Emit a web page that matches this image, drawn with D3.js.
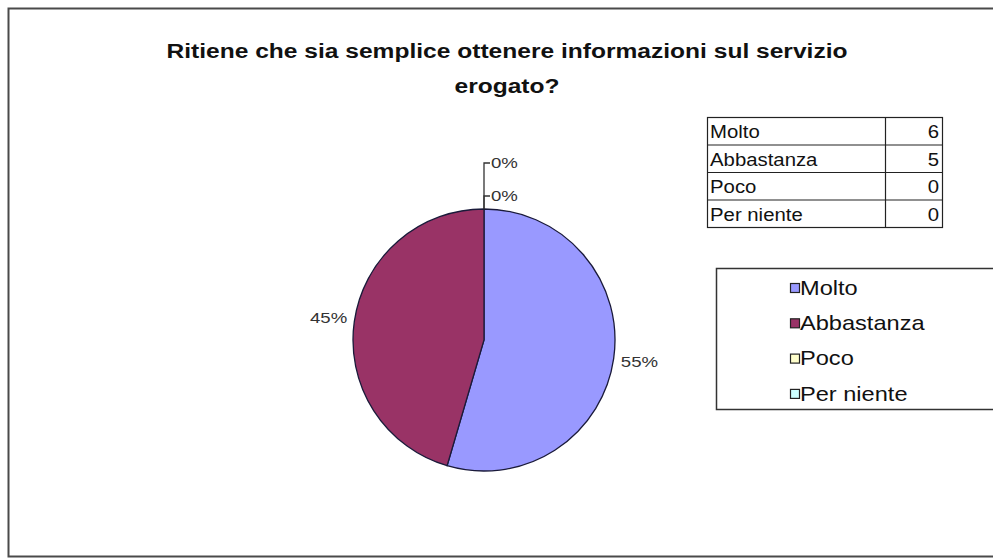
<!DOCTYPE html>
<html>
<head>
<meta charset="utf-8">
<script src="https://cdn.jsdelivr.net/npm/d3@7"></script>
<style>
  html, body { margin: 0; padding: 0; background: #fff; }
  svg { display: block; font-family: Arial, "Liberation Sans", sans-serif; }
</style>
</head>
<body>
<svg id="chart" width="993" height="560"></svg>
<script>
// Survey answers and counts
const categories = ["Molto", "Abbastanza", "Poco", "Per niente"];
const counts = [6, 5, 0, 0];
const colors = ["#9999FF", "#993366", "#FFFFCC", "#CCFFFF"];
const titleLines = ["Ritiene che sia semplice ottenere informazioni sul servizio", "erogato?"];

const svg = d3.select("#chart");

// text drawn slightly wide, as in the exported sheet
function wideText(parent, x, y, sx, str, opts) {
  const g = parent.append("g").attr("transform", `translate(${x},${y}) scale(${sx},1)`);
  const t = g.append("text").attr("x", 0).attr("y", 0).text(str);
  Object.entries(opts).forEach(([k, v]) => t.attr(k, v));
  return t;
}

// outer frame
svg.append("rect")
  .attr("x", 8.5).attr("y", 8.5)
  .attr("width", 1000).attr("height", 548)
  .attr("fill", "#fff").attr("stroke", "#4a4a4a").attr("stroke-width", 2);

// title
titleLines.forEach((t, i) => {
  wideText(svg, 507, 58 + i * 35, 1.17, t, {
    "text-anchor": "middle", "font-size": 21, "font-weight": "bold", "fill": "#111"
  });
});

// pie
const cx = 484, cy = 340, r = 131;
const total = d3.sum(counts);
const data = categories.map((c, i) => ({ cat: c, value: counts[i], color: colors[i] }));
const pie = d3.pie().value(d => d.value).sort(null);
const arcs = pie(data);
const arc = d3.arc().innerRadius(0).outerRadius(r);

const g = svg.append("g").attr("transform", `translate(${cx},${cy})`);
g.selectAll("path")
  .data(arcs.filter(a => a.data.value > 0))
  .join("path")
  .attr("d", arc)
  .attr("fill", d => d.data.color)
  .attr("stroke", "#1a1a3a").attr("stroke-width", 1.3);

const pct = d => d3.format(".0%")(d.data.value / total);
const labelStyle = { "dominant-baseline": "central", "font-size": 15.5, "fill": "#333" };

// labels for non-empty slices, placed outside the rim
const labelR = 157;
arcs.filter(a => a.data.value > 0).forEach(d => {
  const m = (d.startAngle + d.endAngle) / 2;
  wideText(g, Math.sin(m) * labelR, -Math.cos(m) * labelR, 1.2, pct(d),
    Object.assign({ "text-anchor": "middle" }, labelStyle));
});

// empty slices: stacked labels above the top with leader lines
const empty = arcs.filter(a => a.data.value === 0);
const stackY = [-144, -177];
empty.forEach((d, i) => {
  const ax = Math.sin(d.startAngle) * r;
  const ay = -Math.cos(d.startAngle) * r;
  const ly = stackY[i];
  g.append("path")
    .attr("d", `M${ax},${ay} L${ax},${ly} L${ax + 6},${ly}`)
    .attr("fill", "none").attr("stroke", "#333").attr("stroke-width", 1.3);
  wideText(g, ax + 7, ly, 1.2, pct(d), labelStyle);
});

// data table
const tx = 707, ty = 117, tw = 235, rowH = 27.5, colX = 885;
const table = svg.append("g");
table.append("rect")
  .attr("x", tx + 0.5).attr("y", ty + 0.5)
  .attr("width", tw).attr("height", rowH * categories.length)
  .attr("fill", "#fff").attr("stroke", "#222").attr("stroke-width", 1.2);
table.append("line")
  .attr("x1", colX + 0.5).attr("x2", colX + 0.5)
  .attr("y1", ty).attr("y2", ty + rowH * categories.length)
  .attr("stroke", "#222").attr("stroke-width", 1.2);
categories.forEach((c, i) => {
  if (i > 0) {
    table.append("line")
      .attr("x1", tx).attr("x2", tx + tw)
      .attr("y1", ty + rowH * i + 0.5).attr("y2", ty + rowH * i + 0.5)
      .attr("stroke", "#222").attr("stroke-width", 1.2);
  }
  const yc = ty + rowH * i + rowH / 2 + 1;
  wideText(table, tx + 3, yc, 1.1, c,
    { "dominant-baseline": "central", "font-size": 18.5, "fill": "#111" });
  wideText(table, tx + tw - 3, yc, 1.1, counts[i],
    { "dominant-baseline": "central", "text-anchor": "end", "font-size": 18.5, "fill": "#111" });
});

// legend
const lg = svg.append("g");
lg.append("rect")
  .attr("x", 716.5).attr("y", 268.5)
  .attr("width", 300).attr("height", 141)
  .attr("fill", "#fff").attr("stroke", "#333").attr("stroke-width", 1.5);
categories.forEach((c, i) => {
  const y = 288 + i * 35.3;
  lg.append("rect")
    .attr("x", 790.5).attr("y", y - 4.5)
    .attr("width", 9).attr("height", 9)
    .attr("fill", colors[i]).attr("stroke", "#222").attr("stroke-width", 1.2);
  wideText(lg, 800, y, 1.18, c,
    { "dominant-baseline": "central", "font-size": 20, "fill": "#111" });
});
</script>
</body>
</html>
